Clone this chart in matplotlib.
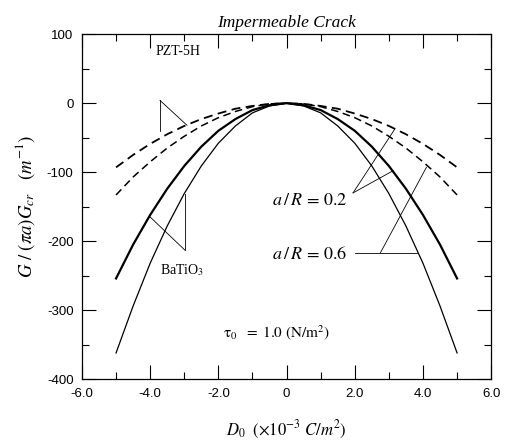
import matplotlib.pyplot as plt
from matplotlib.ticker import MultipleLocator

plt.rcParams['mathtext.fontset'] = 'stix'
plt.rcParams['axes.unicode_minus'] = False

# D0 (x10^-3 C/m^2)
d0 = [-5.0, -4.5, -4.0, -3.5, -3.0, -2.5, -2.0, -1.5, -1.0, -0.5, 0.0,
      0.5, 1.0, 1.5, 2.0, 2.5, 3.0, 3.5, 4.0, 4.5, 5.0]

# PZT-5H (dashed)
pzt_02 = [-93, -75, -59, -45, -33, -23, -15, -8, -4, -1, 0,
          -1, -4, -8, -15, -23, -33, -45, -59, -75, -93]
pzt_06 = [-133, -107, -85, -65, -48, -33, -21, -12, -5, -1, 0,
          -1, -5, -12, -21, -33, -48, -65, -85, -107, -133]
# BaTiO3 (solid)
bat_02 = [-254, -205, -162, -124, -91, -63, -40, -23, -10, -3, 0,
          -3, -10, -23, -40, -63, -91, -124, -162, -205, -254]
bat_06 = [-362, -294, -232, -178, -131, -91, -58, -33, -14, -4, 0,
          -4, -14, -33, -58, -91, -131, -178, -232, -294, -362]

x_ticks = [-6, -4, -2, 0, 2, 4, 6]
x_ticklabels = ['-6.0', '-4.0', '-2.0', '0', '2.0', '4.0', '6.0']
y_ticks = [100, 0, -100, -200, -300, -400]

serif = 'Liberation Serif'
sans = 'Liberation Sans'

fig = plt.figure(figsize=(5.09, 4.44), dpi=100)
ax = fig.add_axes([0.161, 0.146, 0.804, 0.777])

ax.plot(d0, pzt_02, color='black', lw=1.3, ls=(0, (5, 3)))
ax.plot(d0, pzt_06, color='black', lw=1.1, ls=(0, (5, 3)))
ax.plot(d0, bat_02, color='black', lw=1.6)
ax.plot(d0, bat_06, color='black', lw=0.9)

ax.set_xlim(-6, 6)
ax.set_ylim(-400, 100)
ax.set_xticks(x_ticks)
ax.set_xticklabels(x_ticklabels)
ax.set_yticks(y_ticks)
ax.xaxis.set_minor_locator(MultipleLocator(1))
ax.yaxis.set_minor_locator(MultipleLocator(50))
ax.tick_params(which='both', direction='in', top=True, right=True,
               labelsize=9.5, width=0.8)
ax.tick_params(which='major', length=10, pad=6)
ax.tick_params(which='minor', length=5)
for lbl in ax.get_xticklabels() + ax.get_yticklabels():
    lbl.set_family(sans)
for sp in ax.spines.values():
    sp.set_linewidth(0.9)

ax.set_title('Impermeable Crack', family=serif, style='italic', fontsize=12.5, pad=5)
ax.set_xlabel(r'$D_0\ \ (\times 10^{-3}\ C/m^2)$', fontsize=12, labelpad=14)
ax.set_ylabel(r'$G\ /\ (\pi a)G_{cr}\ \ \ (m^{-1})$', fontsize=13.5, labelpad=7)

# leader lines and labels
lk = dict(color='black', lw=0.6)
ax.text(-3.85, 75, 'PZT-5H', family=serif, fontsize=10, va='center', ha='left')
ax.plot([-3.71, -2.92], [4, -32], **lk)
ax.plot([-3.71, -3.71], [4, -40], **lk)

ax.text(-3.05, -242, r'BaTiO$_3$', family=serif, fontsize=10, va='center', ha='center')
ax.plot([-4.0, -2.98], [-165, -213], **lk)
ax.plot([-2.98, -2.98], [-213, -131], **lk)

ax.text(-0.43, -141, r'$a\,/\,R\,=\,0.2$', fontsize=13, va='center', ha='left')
ax.plot([1.95, 3.18], [-130, -37], **lk)
ax.plot([1.95, 3.12], [-130, -98], **lk)

ax.text(-0.43, -218, r'$a\,/\,R\,=\,0.6$', fontsize=13, va='center', ha='left')
ax.plot([2.0, 3.86], [-217, -217], **lk)
ax.plot([2.75, 4.1], [-217, -93], **lk)

ax.text(-0.3, -333, r'$\mathrm{\tau}_0\ \ =\ 1.0\ (\mathrm{N/m^2})$', fontsize=11,
        va='center', ha='center')

fig.savefig('out.png', dpi=100)
